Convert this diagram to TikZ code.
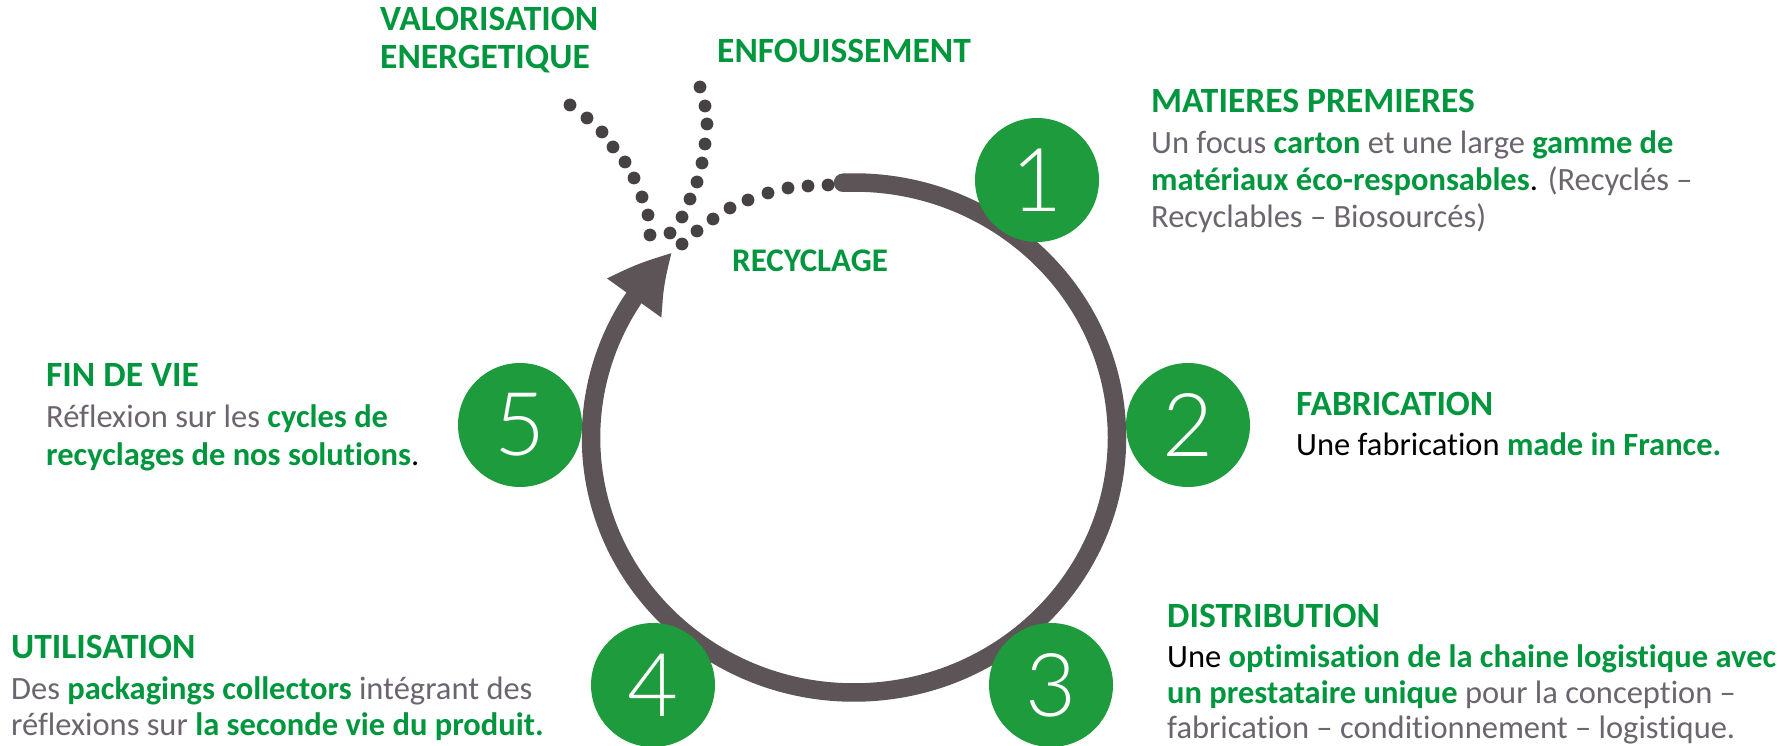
\documentclass[tikz,border=0pt]{standalone}
\usepackage{fontspec}
\setmainfont{Carlito}[Ligatures=NoCommon]
\newfontfamily\numfont{Lato Light}
\usetikzlibrary{arrows.meta,bending,calc}
\definecolor{tgreen}{RGB}{0,150,62}
\definecolor{tgray}{RGB}{108,100,110}
\definecolor{cgreen}{RGB}{30,155,60}
\definecolor{ringc}{RGB}{92,84,86}
\definecolor{dotc}{RGB}{70,66,68}
\newcommand{\gb}[1]{\textbf{\color{tgreen}#1}}
\newcommand{\gr}[1]{{\color{tgray}#1}}
\begin{document}
\begin{tikzpicture}[x=1pt,y=1pt,
  txt/.style={anchor=base west, inner sep=0pt, font=\fontsize{32.5}{37}\selectfont},
  ttl/.style={anchor=base west, inner sep=0pt, font=\fontsize{35.5}{37}\selectfont\bfseries, text=tgreen},
  numcirc/.style={circle, fill=cgreen, minimum size=124pt, inner sep=0pt, text=white, font=\numfont\fontsize{88}{88}\selectfont},
  ringline/.style={draw=ringc, line width=18.5pt},
  dotmark/.style={fill=dotc}
]
\useasboundingbox (0,0) rectangle (1787,745);
\fill[white] (0,0) rectangle (1787,745);

% ring with arrow
\coordinate (C) at (854,307.5);
\draw[ringline, line cap=round, -{Triangle[length=60pt,width=62pt,bend]}]
  ($(C)+({263*cos(92.4)},{255*sin(92.4)})$) arc[start angle=92.4, end angle=-226.4, x radius=263, y radius=255];

% dotted paths
\foreach \x/\y in {828/185,808/186,788/188,768/193,748/200,730/208,713/219,697/231,682/244,
                   570/105,587/118,602/132,613/147,625/162,634/178,642/197,648/215,650/235,
                   700/87,705/106,707/124,705/144,702/163,697/182,690/199,682/217,670/233}
  \fill[dotmark] (\x,{745-\y}) circle (6.4pt);

% numbered circles
\node[numcirc] (n1) at (1037,565) {1};
\node[numcirc] (n2) at (1188,320) {2};
\node[numcirc] (n3) at (1051,60) {3};
\node[numcirc] (n4) at (653,60) {4};
\node[numcirc] (n5) at (520,320) {5};

% top labels
\node[ttl] (val1) at (380,714) {VALORISATION};
\node[ttl] (val2) at (380,676) {ENERGETIQUE};
\node[ttl] (enf) at (717,682) {ENFOUISSEMENT};
\node[ttl, font=\fontsize{33}{37}\selectfont\bfseries] (rec) at (732,473) {RECYCLAGE};

% matieres premieres
\node[ttl] (mp0) at (1151,632) {MATIERES PREMIERES};
\node[txt] (mp1) at (1151,591) {\gr{Un focus} \gb{carton} \gr{et une large} \gb{gamme de}};
\node[txt] (mp2) at (1151,554) {\gb{matériaux éco-responsables}. \gr{(Recyclés –}};
\node[txt] (mp3) at (1151,517) {\gr{Recyclables – Biosourcés)}};

% fabrication
\node[ttl] (fa0) at (1296,330) {FABRICATION};
\node[txt] (fa1) at (1296,290) {Une fabrication \gb{made in France.}};

% distribution
\node[ttl] (di0) at (1167,118) {DISTRIBUTION};
\node[txt] (di1) at (1167,78) {Une \gb{optimisation de la chaine logistique avec}};
\node[txt] (di2) at (1167,42) {\gb{un prestataire unique} \gr{pour la conception –}};
\node[txt] (di3) at (1167,7) {\gr{fabrication – conditionnement – logistique.}};

% utilisation
\node[ttl] (ut0) at (11,87) {UTILISATION};
\node[txt] (ut1) at (11,46) {\gr{Des} \gb{packagings collectors} \gr{intégrant des}};
\node[txt] (ut2) at (11,10) {\gr{réflexions sur} \gb{la seconde vie du produit.}};

% fin de vie
\node[ttl] (fv0) at (46,358) {FIN DE VIE};
\node[txt] (fv1) at (46,317) {\gr{Réflexion sur les} \gb{cycles de}};
\node[txt] (fv2) at (46,280) {\gb{recyclages de nos solutions}.};
\end{tikzpicture}
\end{document}
